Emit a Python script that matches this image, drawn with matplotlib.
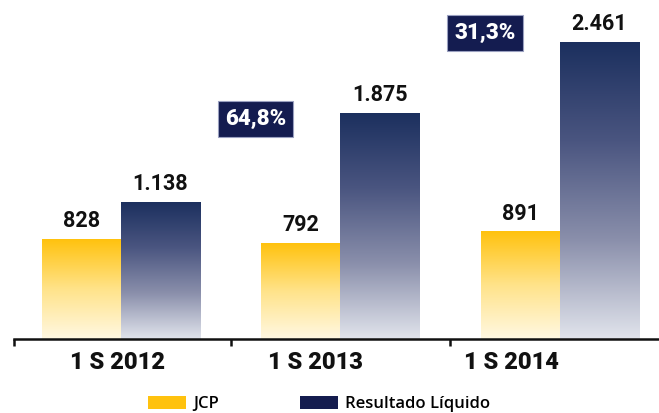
import numpy as np
import matplotlib
matplotlib.use("Agg")
import matplotlib.pyplot as plt
from matplotlib.colors import LinearSegmentedColormap
from matplotlib.patches import Patch

plt.rcParams['font.family'] = ['Roboto', 'Lato', 'DejaVu Sans']

periods = ["1 S 2012", "1 S 2013", "1 S 2014"]
jcp = [828, 792, 891]
resultado = [1138, 1875, 2461]
jcp_labels = ["828", "792", "891"]
res_labels = ["1.138", "1.875", "2.461"]
growth = ["64,8%", "31,3%"]
series_names = ["JCP", "Resultado Líquido"]

fig = plt.figure(figsize=(6.59, 4.13), dpi=100)
W, H = 659, 413
ax = fig.add_axes([14 / W, 74 / H, 645 / W, 339 / H])

x = np.arange(len(periods))
bw = 0.36

yellow_cmap = LinearSegmentedColormap.from_list("y", ["#fff8e2", "#ffe38a", "#ffc20e"])
navy_cmap = LinearSegmentedColormap.from_list("n", ["#e1e4ec", "#8a8fab", "#4a5580", "#1b2f5e"])

grad = np.linspace(0, 1, 256).reshape(-1, 1)

def grad_bars(xs, vals, cmap):
    bars = ax.bar(xs, vals, width=bw, color="none", edgecolor="none")
    for b in bars:
        x0, y0 = b.get_x(), b.get_y()
        w, h = b.get_width(), b.get_height()
        im = ax.imshow(grad, cmap=cmap, aspect="auto", origin="lower",
                       extent=[x0, x0 + w, y0, y0 + h], zorder=2)
        im.set_clip_path(b)
    return bars

b1 = grad_bars(x - bw / 2, jcp, yellow_cmap)
b2 = grad_bars(x + bw / 2, resultado, navy_cmap)
ax.set_xlim(-0.487, 2.451)
ax.set_ylim(0, 2809)

for bars, labels in ((b1, jcp_labels), (b2, res_labels)):
    for b, lab in zip(bars, labels):
        ax.annotate(lab, (b.get_x() + b.get_width() / 2, b.get_height()),
                    xytext=(0, 5), textcoords="offset points", ha="center", va="bottom",
                    fontsize=15.5, fontweight="bold", color="#111111")

# growth boxes
box_pos = [(0.613, 1823), (1.658, 2535)]
for (bx, by), g in zip(box_pos, growth):
    ax.text(bx, by, g, ha="center", va="center", fontsize=16, fontweight="black",
            color="white",
            bbox=dict(boxstyle="square,pad=0.33", facecolor="#141c50",
                      edgecolor="#9aa0c0", linewidth=0.8))

# axis
for s in ["top", "right", "left"]:
    ax.spines[s].set_visible(False)
ax.spines["bottom"].set_linewidth(1.8)
ax.spines["bottom"].set_color("#111111")
ax.set_yticks([])
ax.set_xticks([-0.487, 0.5, 1.5])
ax.set_xticklabels([])
ax.tick_params(axis="x", direction="out", length=5, width=1.8, color="#111111")

label_x = [-0.014, 0.884, 1.777]
for lx, p in zip(label_x, periods):
    ax.annotate(p, (lx, 0), xytext=(0, -17), textcoords="offset points",
                ha="center", va="center", fontsize=17, fontweight="black",
                color="#111111", annotation_clip=False)

handles = [Patch(facecolor="#ffc20e", edgecolor="none"),
           Patch(facecolor="#141c4e", edgecolor="none")]
fig.legend(handles, series_names, loc="center", bbox_to_anchor=(319 / W, 9 / H),
           ncol=2, frameon=False, handlelength=2.3, handleheight=0.8,
           handletextpad=0.4, columnspacing=4.85,
           prop=dict(family=['Open Sans', 'Lato', 'DejaVu Sans'], size=12, weight='semibold'))

fig.savefig("out.png", dpi=100)
